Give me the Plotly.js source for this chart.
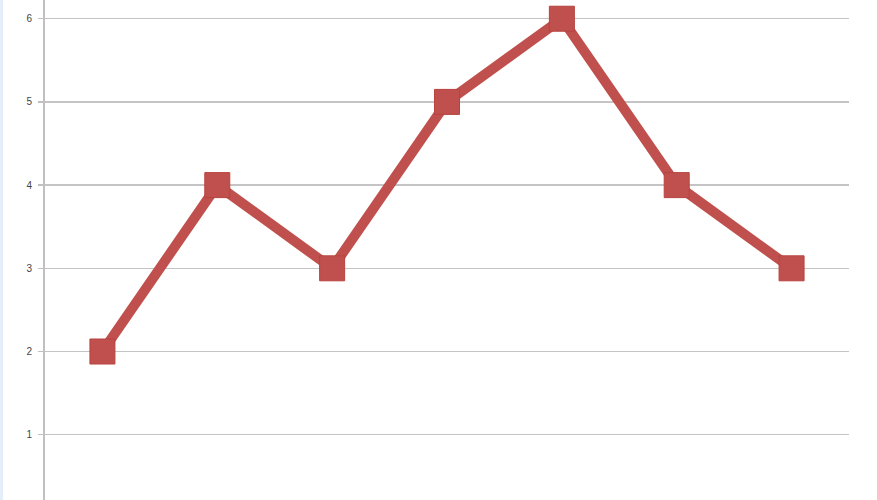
<!DOCTYPE html>
<html>
<head>
<meta charset="utf-8">
<script src="https://cdn.plot.ly/plotly-3.0.1.min.js"></script>
<style>
html,body{margin:0;padding:0;background:#fff;}
#wrap{width:877px;height:500px;position:relative;}
#edge{position:absolute;left:0;top:0;width:3px;height:500px;background:#e3eef8;z-index:2;}
#chart{width:877px;height:500px;}
</style>
</head>
<body>
<div id="wrap"><div id="edge"></div><div id="chart"></div></div>
<script>
const categories = ["1", "2", "3", "4", "5", "6", "7"];
const values = [2, 4, 3, 5, 6, 4, 3];
const yTicks = [1, 2, 3, 4, 5, 6];

const trace = {
  x: categories,
  y: values,
  type: "scatter",
  mode: "lines+markers",
  line: {color: "#C0504D", width: 10},
  marker: {symbol: "square", size: 25, color: "#C0504D", line: {color: "#B8433F", width: 1}},
  cliponaxis: false,
  hoverinfo: "skip"
};

const layout = {
  width: 877,
  height: 500,
  margin: {l: 45, r: 28, t: 0, b: 0, pad: 0},
  paper_bgcolor: "#ffffff",
  plot_bgcolor: "#ffffff",
  showlegend: false,
  xaxis: {
    type: "category",
    range: [-0.5, 6.5],
    showticklabels: false,
    showgrid: false,
    zeroline: false,
    showline: false,
    ticks: ""
  },
  yaxis: {
    range: [0.215, 6.225],
    tickvals: yTicks,
    ticktext: yTicks.map(String),
    showgrid: true,
    gridcolor: "#c4c4c4",
    gridwidth: 1.5,
    zeroline: false,
    showline: true,
    linecolor: "#c0c0c0",
    linewidth: 2,
    ticks: "outside",
    ticklen: 5,
    tickcolor: "#c0c0c0",
    tickwidth: 1.5,
    ticklabelstandoff: 4,
    tickfont: {family: "Liberation Sans, Arial, sans-serif", size: 10, color: "#444444"}
  }
};

Plotly.newPlot("chart", [trace], layout, {staticPlot: true, displayModeBar: false});
</script>
</body>
</html>
